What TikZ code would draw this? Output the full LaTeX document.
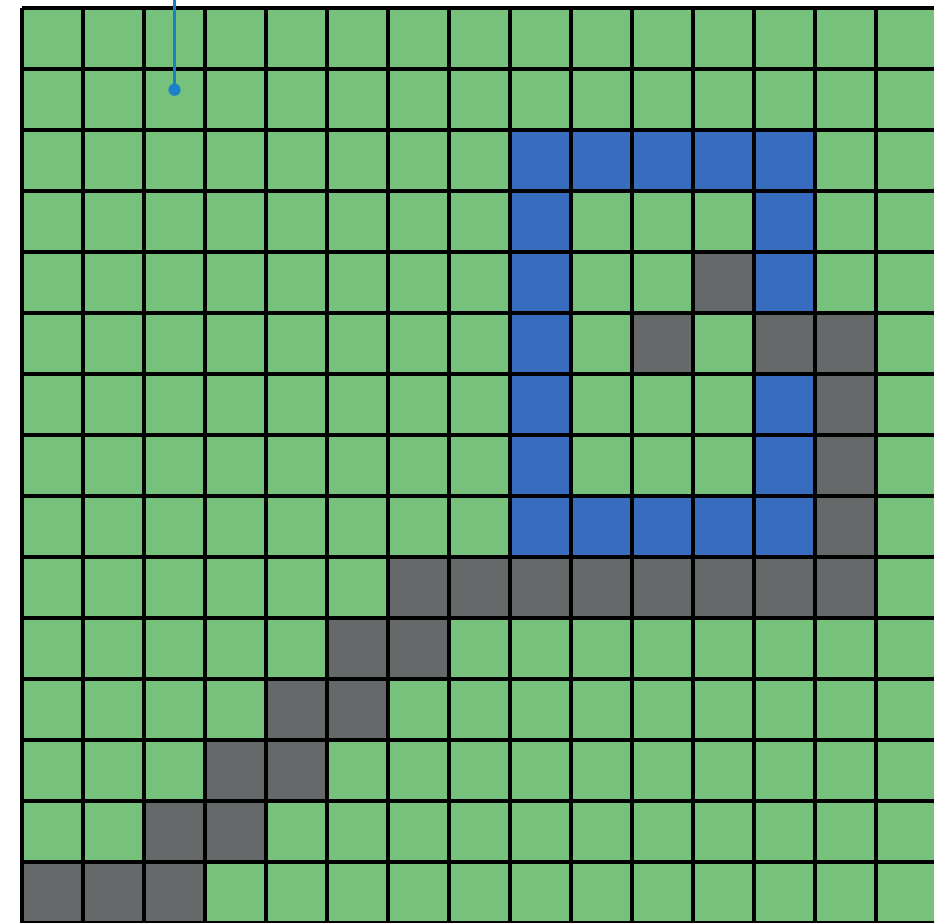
\documentclass[tikz,border=0pt]{standalone}
\usepackage{xcolor}
\usepackage{tikz}
\definecolor{cellgreen}{RGB}{118,193,123}
\definecolor{wallgray}{RGB}{101,105,105}
\definecolor{routeblue}{RGB}{56,108,190}
\definecolor{probeblue}{RGB}{28,128,200}
\tikzset{
    maze/.style={line join=miter},
    gridline/.style={draw=black, line width=1.7pt},
    wall/.style={fill=wallgray},
    route/.style={fill=routeblue},
    probe/.style={draw=probeblue, line width=1pt},
    probetip/.style={fill=probeblue},
}
% cell (c,r): column c from the left, row r from the top
\newcommand{\mazecell}[3]{\fill[#1] (#2-1,-#3) rectangle (#2,-#3+1);}

\begin{document}
\begin{tikzpicture}[maze]
    \useasboundingbox (-0.361,-15.0) rectangle (14.951,0.131);
    \clip (-0.361,-15.0) rectangle (14.951,0.131);

    % background
    \fill[cellgreen] (0,-15) rectangle (15,0);

    % walls
    \foreach \c/\r in {12/5, 11/6, 13/6, 14/6, 14/7, 14/8, 14/9,
                       6/11, 7/11, 5/12, 6/12, 4/13, 5/13, 3/14, 4/14,
                       1/15, 2/15, 3/15} {
        \mazecell{wall}{\c}{\r}
    }
    \foreach \c in {7,...,14} {
        \mazecell{wall}{\c}{10}
    }

    % route
    \foreach \c in {9,...,13} {
        \mazecell{route}{\c}{3}
        \mazecell{route}{\c}{9}
    }
    \foreach \r in {4,...,8} {
        \mazecell{route}{9}{\r}
    }
    \foreach \r in {4,5,7,8} {
        \mazecell{route}{13}{\r}
    }

    % grid
    \foreach \i in {0,...,15} {
        \draw[gridline] (\i,0) -- (\i,-15);
        \draw[gridline] (0,-\i) -- (15,-\i);
    }

    % probe
    \coordinate (probetop) at (2.5,0.3);
    \node[probetip, circle, inner sep=0pt, minimum size=0.2cm] (tip) at (2.5,-1.34) {};
    \draw[probe] (probetop) -- (tip.center);
\end{tikzpicture}
\end{document}
